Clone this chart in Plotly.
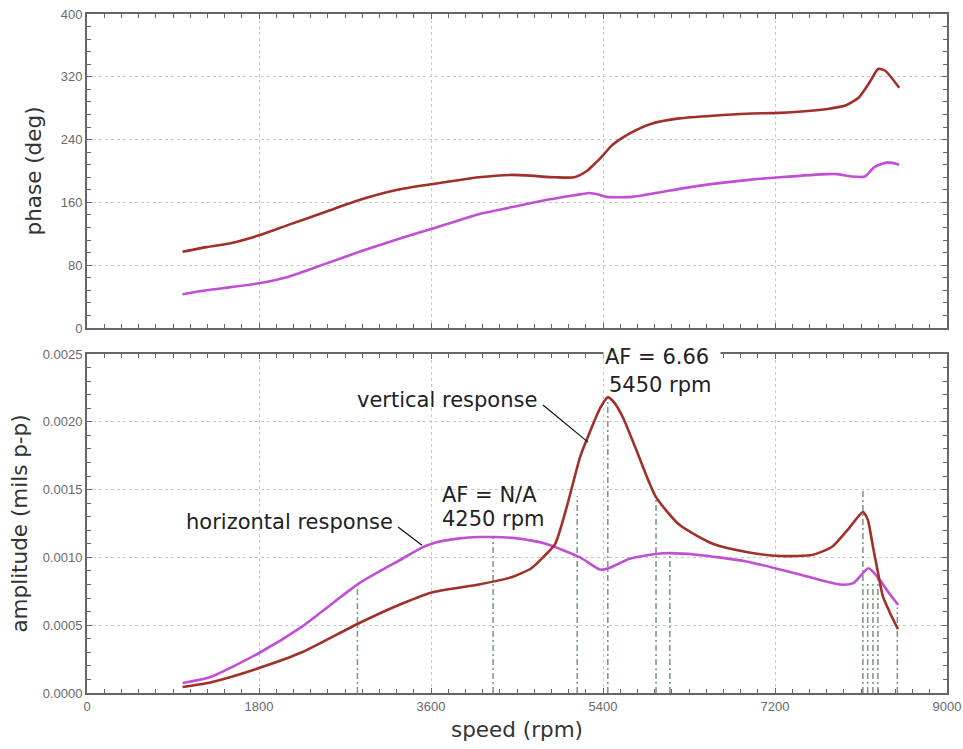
import plotly.graph_objects as go
from plotly.subplots import make_subplots

# --- phase vs speed -------------------------------------------------------
phase_v_rpm = [1000, 1250, 1500, 1800, 2100, 2500, 2850, 3250, 3600, 4100, 4450, 4900,
               5100, 5230, 5320, 5400, 5480, 5550, 5680, 5900, 6200, 6900, 7250, 7750,
               7950, 8080, 8190, 8280, 8350, 8500]
phase_v_deg = [97, 103, 108, 118, 131, 148, 163, 176, 183, 192, 195, 192,
               192, 200, 210, 220, 231, 238, 248, 260, 267, 273, 274, 279,
               284, 294, 313, 330, 328, 306]

phase_h_rpm = [1000, 1250, 1500, 1800, 2100, 2500, 2850, 3250, 3600, 4100, 4450, 4800,
               5100, 5260, 5350, 5440, 5700, 6000, 6400, 6950, 7250, 7750, 7850, 8000,
               8140, 8240, 8380, 8500]
phase_h_deg = [43, 48, 52, 57, 65, 82, 97, 113, 126, 145, 154, 163,
               169, 172, 170, 167, 167, 173, 181, 189, 192, 196, 196, 193,
               193, 205, 211, 208]

# --- amplitude vs speed ---------------------------------------------------
amp_v_rpm = [1000, 1300, 1800, 2250, 2850, 3300, 3600, 4100, 4450, 4650, 4800, 4900,
             5020, 5160, 5260, 5370, 5450, 5520, 5610, 5750, 5950, 6200, 6550, 6900,
             7250, 7600, 7800, 7980, 8120, 8170, 8225, 8277, 8330, 8424, 8487]
amp_v = [0.000044, 0.00008, 0.000184, 0.0003, 0.000516, 0.00066, 0.00074, 0.0008,
         0.000855, 0.00092, 0.00102, 0.0011, 0.00137, 0.00174, 0.00192, 0.0021,
         0.00218, 0.00214, 0.00203, 0.00179, 0.00145, 0.00124, 0.0011, 0.00104,
         0.00101, 0.00102, 0.00108, 0.00122, 0.001335, 0.00128, 0.00108, 0.00089,
         0.00071, 0.00056, 0.00047]

amp_h_rpm = [1000, 1300, 1800, 2250, 2850, 3300, 3500, 3650, 3900, 4100, 4250, 4500,
             4800, 5160, 5370, 5460, 5680, 6030, 6380, 6900, 7430, 7880, 8020, 8180,
             8300, 8400, 8490]
amp_h = [0.000074, 0.00012, 0.000295, 0.00049, 0.00081, 0.00099, 0.00107, 0.00111,
         0.00114, 0.00115, 0.00115, 0.00114, 0.0011, 0.001, 0.00091, 0.00092,
         0.00099, 0.00103, 0.00102, 0.00097, 0.00088, 0.0008, 0.00081, 0.00092,
         0.00083, 0.00073, 0.00065]

# half-power / peak marker lines (speed, height reached)
marker_rpm = [2830, 4250, 5130, 5450, 5955, 6100, 8120, 8170, 8225, 8277, 8480]
marker_top = [0.00081, 0.00115, 0.00145, 0.00218, 0.00145, 0.00103,
              0.0015, 0.00082, 0.00082, 0.00085, 0.00063]

x_ticks = [0, 1800, 3600, 5400, 7200, 9000]
phase_ticks = [0, 80, 160, 240, 320, 400]
amp_ticks = [0.0, 0.0005, 0.0010, 0.0015, 0.0020, 0.0025]

RED = "#a0302a"
PURPLE = "#c24ed6"
MARK = "#7f9c86"
AXIS = "#666666"
GRID = "#c9c9c9"
TXT = "#222222"

fig = make_subplots(rows=2, cols=1, shared_xaxes=False, vertical_spacing=0.04)

curve = dict(width=2.6, shape="spline", smoothing=0.6)

fig.add_trace(go.Scatter(x=phase_v_rpm, y=phase_v_deg, mode="lines",
                         line=dict(color=RED, **curve), showlegend=False), row=1, col=1)
fig.add_trace(go.Scatter(x=phase_h_rpm, y=phase_h_deg, mode="lines",
                         line=dict(color=PURPLE, **curve), showlegend=False), row=1, col=1)

# dash-dot marker lines from the axis up to each reference level
mx, my = [], []
for r, t in zip(marker_rpm, marker_top):
    mx += [r, r, None]
    my += [0, t, None]
fig.add_trace(go.Scatter(x=mx, y=my, mode="lines",
                         line=dict(color=MARK, width=1.6, dash="6px,3px,2px,3px"),
                         showlegend=False), row=2, col=1)

fig.add_trace(go.Scatter(x=amp_h_rpm, y=amp_h, mode="lines",
                         line=dict(color=PURPLE, **curve), showlegend=False), row=2, col=1)
fig.add_trace(go.Scatter(x=amp_v_rpm, y=amp_v, mode="lines",
                         line=dict(color=RED, **curve), showlegend=False), row=2, col=1)

tick_font = dict(family="Liberation Sans, Arial, sans-serif", size=13, color="#6a6a6a")
title_font = dict(family="DejaVu Sans, Verdana, sans-serif", size=21.5, color="#333333")

common_axis = dict(
    showline=True, linecolor=AXIS, linewidth=2, mirror="ticks",
    ticks="inside", ticklen=5, tickcolor=AXIS, tickwidth=1,
    showgrid=True, gridcolor=GRID, griddash="dot", gridwidth=1,
    zeroline=False, tickfont=tick_font, automargin=False,
)

fig.update_xaxes(range=[0, 9000], tickvals=x_ticks,
                 minor=dict(dtick=180, ticks="inside", ticklen=4, tickcolor=AXIS, showgrid=False),
                 **common_axis)
fig.update_xaxes(showticklabels=False, row=1, col=1)
fig.update_xaxes(ticktext=[str(v) for v in x_ticks],
                 title=dict(text="speed (rpm)", font=title_font, standoff=9), row=2, col=1)

fig.update_yaxes(range=[0, 400], tickvals=phase_ticks,
                 minor=dict(dtick=16, ticks="inside", ticklen=4, tickcolor=AXIS, showgrid=False),
                 title=dict(text="phase (deg)", font=title_font, standoff=13),
                 row=1, col=1, **common_axis)
fig.update_yaxes(range=[0, 0.0025], tickvals=amp_ticks, tickformat=".4f",
                 minor=dict(dtick=0.0001, ticks="inside", ticklen=4, tickcolor=AXIS, showgrid=False),
                 title=dict(text="amplitude (mils p-p)", font=title_font, standoff=9),
                 row=2, col=1, **common_axis)

fig.update_layout(
    width=963, height=749,
    margin=dict(l=87, r=16, t=14, b=56),
    paper_bgcolor="white", plot_bgcolor="white",
)
fig.layout.yaxis.domain = [0.5376, 1.0]
fig.layout.yaxis2.domain = [0.0, 0.4993]

ann_font = dict(family="DejaVu Sans, Verdana, sans-serif", size=21, color=TXT)

# leader lines from labels to curves
fig.add_shape(type="line", xref="x2", yref="y2", x0=4772, y0=0.002124, x1=5243, y1=0.00185,
              line=dict(color="#111111", width=1.2))
fig.add_shape(type="line", xref="x2", yref="y2", x0=3255, y0=0.001224, x1=3506, y1=0.00109,
              line=dict(color="#111111", width=1.2))

fig.add_annotation(xref="x2", yref="y2", x=4730, y=0.00216, text="vertical response",
                   showarrow=False, xanchor="right", yanchor="middle", font=ann_font)
fig.add_annotation(xref="x2", yref="y2", x=3225, y=0.00126, text="horizontal response",
                   showarrow=False, xanchor="right", yanchor="middle", font=ann_font)
fig.add_annotation(xref="x2", yref="y2", x=3694, y=0.00146, text="AF = N/A",
                   showarrow=False, xanchor="left", yanchor="middle", font=ann_font)
fig.add_annotation(xref="x2", yref="y2", x=3694, y=0.00128, text="4250 rpm",
                   showarrow=False, xanchor="left", yanchor="middle", font=ann_font)
fig.add_annotation(xref="x2", yref="y2", x=5400, y=0.002478, text="AF = 6.66",
                   showarrow=False, xanchor="left", yanchor="middle", font=ann_font,
                   bgcolor="white", borderpad=1, width=114, align="left")
fig.add_annotation(xref="x2", yref="y2", x=5445, y=0.002272, text="5450 rpm",
                   showarrow=False, xanchor="left", yanchor="middle", font=ann_font)

fig.write_html("out.html")
